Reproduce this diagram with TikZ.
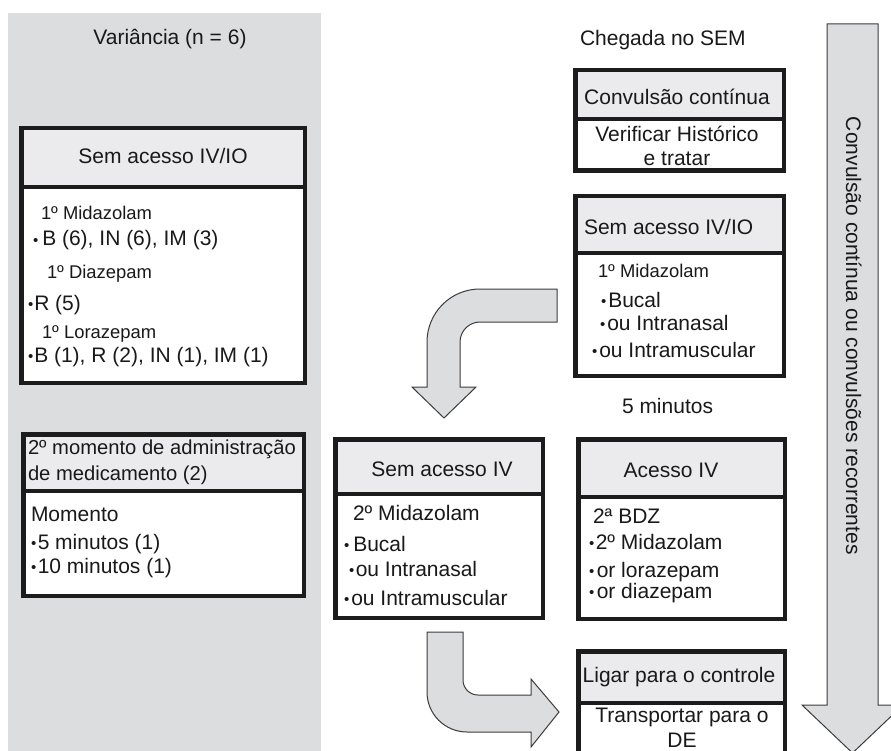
\documentclass[tikz,border=0pt]{standalone}
\usepackage{fontspec}
\setmainfont{Liberation Sans}
\definecolor{panelc}{RGB}{220,221,223}
\definecolor{hdrc}{RGB}{235,235,237}
\definecolor{boxc}{RGB}{28,28,28}
\definecolor{txtc}{RGB}{25,25,25}
\definecolor{arrowc}{RGB}{220,221,223}
\definecolor{arrowline}{RGB}{60,60,60}
\newcommand\twobox[6]{%
 \pgfmathsetmacro\tbx{(#2+#3)/2}%
 \pgfmathsetmacro\tbw{#3-#2-4.5}%
 \pgfmathsetmacro\tbhy{(#4+2.25+#5)/2}%
 \pgfmathsetmacro\tbhh{#5-#4-2.25}%
 \pgfmathsetmacro\tbby{(#5+#6-2.25)/2}%
 \pgfmathsetmacro\tbbh{#6-2.25-#5}%
 \node[bodybox, minimum width=\tbw pt, minimum height=\tbbh pt] (#1b) at (\tbx,\tbby) {};%
 \node[headbox, minimum width=\tbw pt, minimum height=\tbhh pt] (#1h) at (\tbx,\tbhy) {};%
}
\newcommand\bul{{\fontsize{15}{15}\selectfont\raisebox{0.8pt}{•}}}
\tikzset{
 bodybox/.style={draw=boxc, fill=white, line width=4.5pt, inner sep=0pt, outer sep=0pt},
 headbox/.style={bodybox, fill=hdrc},
 txt/.style={inner sep=0pt, outer sep=0pt, text=txtc, font=\fontsize{21}{24}\selectfont},
 smalltxt/.style={txt, font=\fontsize{18.4}{22}\selectfont},
 lt/.style={txt, anchor=base west},
 ct/.style={txt, anchor=base},
 blockarrow/.style={fill=arrowc, draw=arrowline, line width=1pt, line join=miter}
}
\begin{document}
\begin{tikzpicture}[x=1pt,y=-1pt]
\clip (0,0) rectangle (891,751);
\fill[white] (0,0) rectangle (891,751);
% left panel
\node[fill=panelc, inner sep=0pt, outer sep=0pt, minimum width=313pt, minimum height=745pt, anchor=north west] (panel) at (8,13) {};
\node[ct] (var) at (170,45) {Variância (n = 6)};

% left box 1
\twobox{lA}{19}{307}{126}{187}{385}
\node[ct] (lAt) at (163,164) {Sem acesso IV/IO};
\node[smalltxt, anchor=base west] (lA1) at (41,220) {1º Midazolam};
\node[lt] (lA2) at (33,246) {\bul\hspace{4pt}B (6), IN (6), IM (3)};
\node[smalltxt, anchor=base west] (lA3) at (47,279) {1º Diazepam};
\node[lt] (lA4) at (28,310) {\bul\hspace{1pt}R (5)};
\node[smalltxt, anchor=base west] (lA5) at (42,338) {1º Lorazepam};
\node[lt] (lA6) at (28,362) {\bul\hspace{1pt}B (1), R (2), IN (1), IM (1)};

% left box 2
\twobox{lB}{21}{306}{432}{491}{598}
\node[lt, font=\fontsize{20.2}{24}\selectfont] (lBt1) at (28,454) {2º momento de administração};
\node[lt, font=\fontsize{20.2}{24}\selectfont] (lBt2) at (28,480) {de medicamento (2)};
\node[lt] (lB1) at (31,521) {Momento};
\node[lt] (lB2) at (31,549) {\bul\hspace{1.5pt}5 minutos (1)};
\node[lt] (lB3) at (31,573) {\bul\hspace{1.5pt}10 minutos (1)};

% right column
\node[lt] (cheg) at (580,46) {Chegada no SEM};
\twobox{rA}{573}{786}{68}{119}{173}
\node[ct] (rAt) at (677,105) {Convulsão contínua};
\node[ct] (rA1) at (677,142) {Verificar Histórico};
\node[ct] (rA2) at (677,166) {e tratar};

\twobox{rB}{573}{786}{194}{253}{378}
\node[lt] (rBt) at (584,235) {Sem acesso IV/IO};
\node[smalltxt, anchor=base west] (rB1) at (598,278) {1º Midazolam};
\node[lt] (rB2) at (601,307) {\bul\hspace{2pt}Bucal};
\node[lt] (rB3) at (600,330) {\bul\hspace{2pt}ou Intranasal};
\node[lt] (rB4) at (592,357) {\bul\hspace{2pt}ou Intramuscular};

\node[lt] (cinco) at (622,413) {5 minutos};

\twobox{mA}{333}{545}{437}{494}{620}
\node[ct] (mAt) at (442,476) {Sem acesso IV};
\node[lt] (mA1) at (353,520) {2º Midazolam};
\node[lt] (mA2) at (344,551) {\bul\hspace{4pt}Bucal};
\node[lt] (mA3) at (349,576) {\bul\hspace{1.5pt}ou Intranasal};
\node[lt] (mA4) at (344,605) {\bul\hspace{2pt}ou Intramuscular};

\twobox{aA}{576}{787}{437}{497}{621}
\node[ct] (aAt) at (671,477) {Acesso IV};
\node[lt] (aA1) at (593,523) {2ª BDZ};
\node[lt] (aA2) at (589,549) {\bul\hspace{1.5pt}2º Midazolam};
\node[lt] (aA3) at (589,577) {\bul\hspace{2.5pt}or lorazepam};
\node[lt] (aA4) at (589,598) {\bul\hspace{2.5pt}or diazepam};

\twobox{gA}{576}{787}{649}{703}{775}
\node[ct] (gAt) at (679,682) {Ligar para o controle};
\node[ct] (gA1) at (682,722) {Transportar para o};
\node[ct] (gA2) at (682,747) {DE};

% right long arrow
\draw[blockarrow] (827,24) -- (878,24) -- (878,705) -- (903,705) -- (852.5,753) -- (802,705) -- (827,705) -- cycle;
\node[txt, anchor=base west, rotate=-90] (longtxt) at (846,117) {Convulsão contínua ou convulsões recorrentes};

% curved arrow 1
\draw[blockarrow] (557,289) -- (480,289) .. controls (450.7,289) and (427,312.7) .. (427,342)
 -- (427,387) -- (412,387) -- (444,418) -- (476,387) -- (460,387) -- (460,342)
 .. controls (460,331) and (469,322) .. (480,322) -- (557,322) -- cycle;

% curved arrow 2
\draw[blockarrow] (427,632) -- (463,632) -- (463,680) .. controls (463,688.3) and (469.7,695) .. (478,695)
 -- (531,695) -- (531,679) -- (559,712) -- (531,747) -- (531,732) -- (467,732)
 .. controls (444.9,732) and (427,714.1) .. (427,692) -- cycle;
\end{tikzpicture}
\end{document}
